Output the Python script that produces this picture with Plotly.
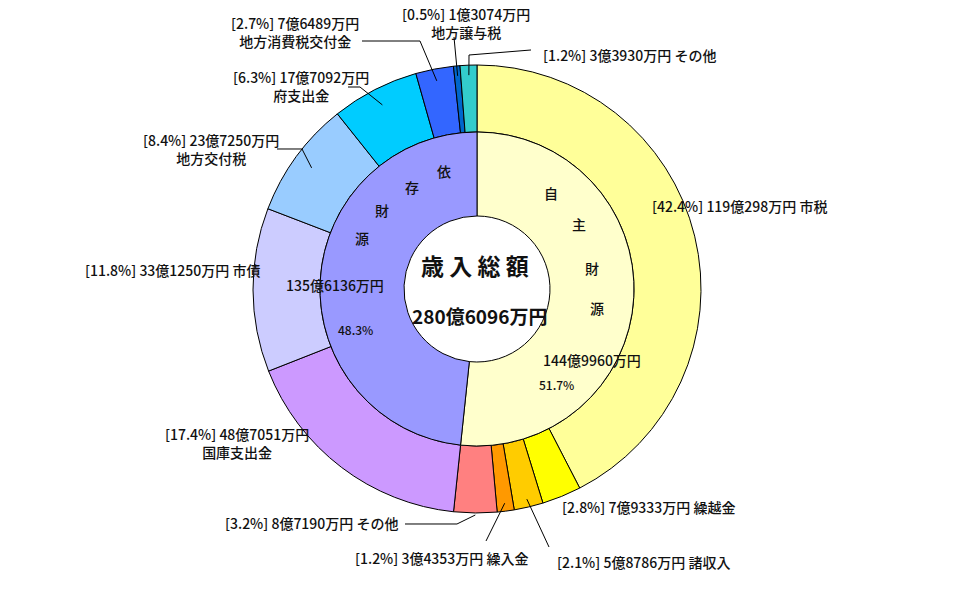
import math
import plotly.graph_objects as go

W, H = 962, 595

# ---------------- data ----------------
outer_labels = ["市税", "繰越金", "諸収入", "繰入金", "その他",
                "国庫支出金", "市債", "地方交付税", "府支出金",
                "地方消費税交付金", "地方譲与税", "その他"]
outer_values = [1190298, 79333, 58786, 34353, 87190,
                487051, 331250, 237250, 177092, 76489, 13074, 33930]  # 万円
outer_pcts = ["42.4", "2.8", "2.1", "1.2", "3.2",
              "17.4", "11.8", "8.4", "6.3", "2.7", "0.5", "1.2"]
outer_colors = ["#FFFF99", "#FFFF00", "#FFCC00", "#FF9900", "#FF8080",
                "#CC99FF", "#CCCCFF", "#99CCFF", "#00CCFF",
                "#3366FF", "#0066CC", "#33CCCC"]

inner_labels = ["自主財源", "依存財源"]
inner_values = [1449960, 1356136]  # 万円
inner_pcts = ["51.7", "48.3"]
inner_colors = ["#FFFFCC", "#9999FF"]

center_title = "歳入総額"
total_value = 2806096  # 万円


def fmt(v):
    return f"{v // 10000}億{v % 10000}万円"


# ---------------- geometry (layout only) ----------------
CX, CY = 477, 289
R_OUT, R_IN, R_HOLE = 224, 157, 73
FONT = "Noto Sans CJK JP"
TXT = "#111111"


def px(x, y):
    return x / W, 1 - y / H


def dom(r):
    return dict(x=[(CX - r) / W, (CX + r) / W],
                y=[1 - (CY + r) / H, 1 - (CY - r) / H])


fig = go.Figure()
fig.add_trace(go.Pie(
    values=outer_values,
    labels=[f"{i}_{l}" for i, l in enumerate(outer_labels)],
    sort=False, direction="clockwise", rotation=0,
    hole=R_IN / R_OUT, domain=dom(R_OUT),
    marker=dict(colors=outer_colors, line=dict(color="black", width=1)),
    textinfo="none", hoverinfo="skip", showlegend=False,
))
fig.add_trace(go.Pie(
    values=inner_values,
    labels=[f"in_{l}" for l in inner_labels],
    sort=False, direction="clockwise", rotation=0,
    hole=R_HOLE / R_IN, domain=dom(R_IN),
    marker=dict(colors=inner_colors, line=dict(color="black", width=1)),
    textinfo="none", hoverinfo="skip", showlegend=False,
))

annotations = []


def ann(x, y, text, size=14, anchor="center", weight=500, align="center"):
    xx, yy = px(x, y)
    annotations.append(dict(
        x=xx, y=yy, xref="paper", yref="paper", text=text,
        showarrow=False, xanchor=anchor, yanchor="middle", align=align,
        font=dict(family=FONT, size=size, color=TXT, weight=weight),
    ))


def lab(i):
    return f"[{outer_pcts[i]}%] {fmt(outer_values[i])}"


# outer labels
ann(650, 206, f"{lab(0)} {outer_labels[0]}", anchor="left")
ann(560, 507, f"{lab(1)} {outer_labels[1]}", anchor="left")
ann(555, 562, f"{lab(2)} {outer_labels[2]}", anchor="left")
ann(353, 558, f"{lab(3)} {outer_labels[3]}", anchor="left")
ann(400, 523, f"{lab(4)} {outer_labels[4]}", anchor="right")
ann(237, 443, f"{lab(5)}<br>{outer_labels[5]}")
ann(262, 270, f"{lab(6)} {outer_labels[6]}", anchor="right")
ann(211, 149, f"{lab(7)}<br>{outer_labels[7]}")
ann(301, 86, f"{lab(8)}<br>{outer_labels[8]}")
ann(295, 32, f"{lab(9)}<br>{outer_labels[9]}")
ann(466, 23, f"{lab(10)}<br>{outer_labels[10]}")
ann(541, 55, f"{lab(11)} {outer_labels[11]}", anchor="left")

# inner ring labels
for ch, (x, y) in zip(inner_labels[0], [(551, 193), (579, 224), (592, 268), (597, 308)]):
    ann(x, y, ch, size=14)
ann(592, 360, fmt(inner_values[0]), size=14)
ann(556, 384, f"{inner_pcts[0]}%", size=12)
for ch, (x, y) in zip(inner_labels[1], [(444, 171), (412, 187), (382, 210), (362, 238)]):
    ann(x, y, ch, size=14)
ann(335, 285, fmt(inner_values[1]), size=14)
ann(355, 329, f"{inner_pcts[1]}%", size=12)

# center
ann(475, 265, " ".join(center_title), size=23, weight=700)
ann(479, 315, fmt(total_value), size=19, weight=700)

# leader lines: slice end computed from data, elbows are layout positions
total = sum(outer_values)
cum = [0]
for v in outer_values:
    cum.append(cum[-1] + v)


def slice_point(i, r):
    f = (cum[i] + outer_values[i] / 2) / total
    th = 2 * math.pi * f
    return CX + r * math.sin(th), CY - r * math.cos(th)


leaders = [
    (2, 216, [(549, 547)]),
    (3, 216, [(486, 541)]),
    (4, 226, [(405, 524), (457, 524)]),
    (7, 205, [(277, 149), (302, 149)]),
    (8, 207, [(348, 87), (360, 87)]),
    (9, 212, [(362, 41), (420, 41)]),
    (10, 214, [(454, 37)]),
    (11, 214, [(531, 50), (469, 55)]),
]
shapes = []
for i, r, pts in leaders:
    allp = pts + [slice_point(i, r)]
    path = ""
    for k, (x, y) in enumerate(allp):
        xx, yy = px(x, y)
        path += ("M" if k == 0 else " L") + f" {xx:.5f},{yy:.5f}"
    shapes.append(dict(type="path", path=path, xref="paper", yref="paper",
                       line=dict(color="black", width=1)))

fig.update_layout(
    width=W, height=H,
    margin=dict(l=0, r=0, t=0, b=0),
    paper_bgcolor="white", plot_bgcolor="white",
    annotations=annotations, shapes=shapes,
    showlegend=False,
)

fig.write_html("out.html")
